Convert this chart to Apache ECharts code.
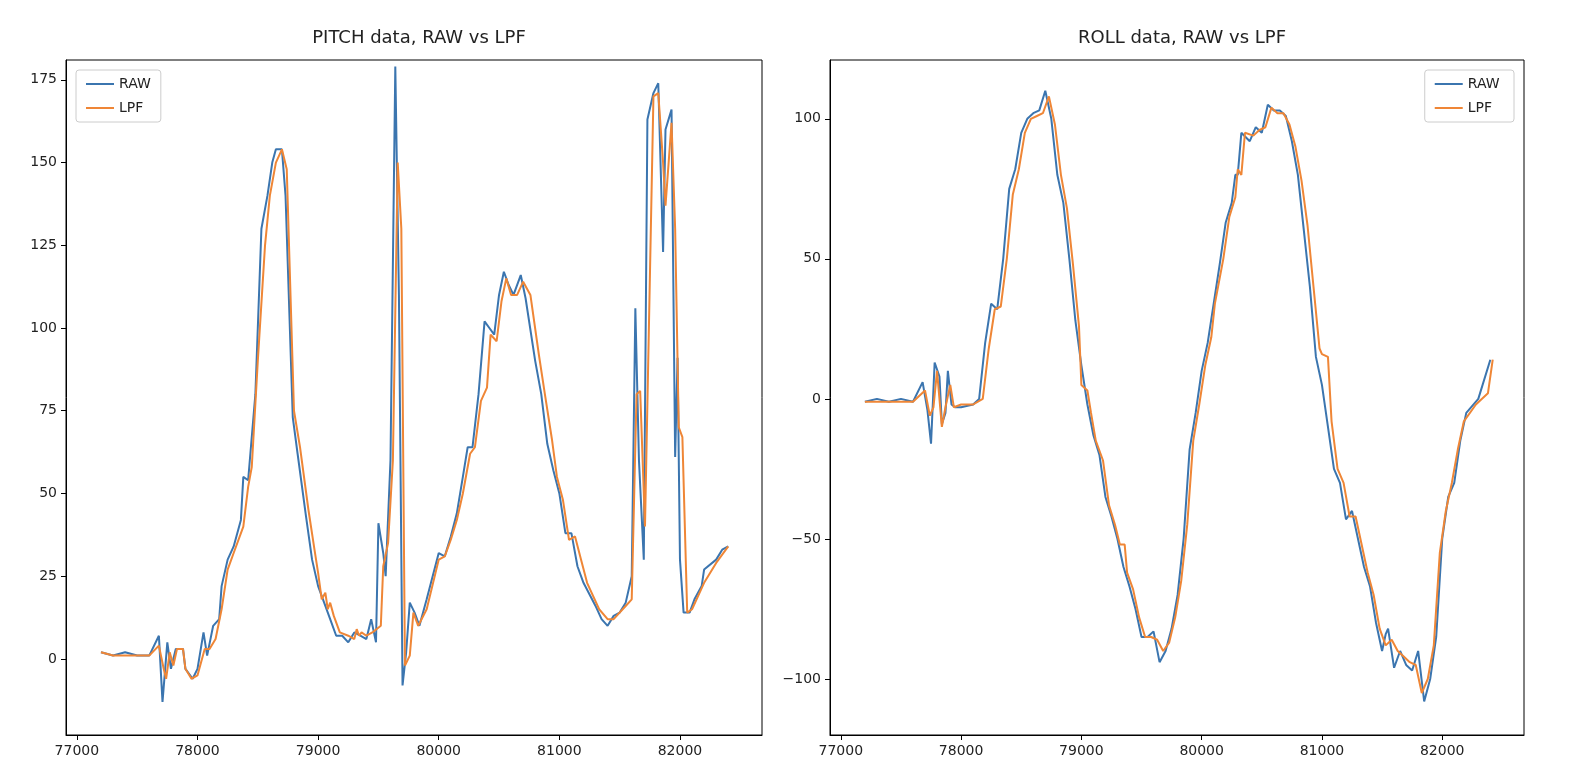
<!DOCTYPE html>
<html>
<head>
<meta charset="utf-8">
<script src="https://cdn.jsdelivr.net/npm/echarts@6/dist/echarts.min.js"></script>
<style>html,body{margin:0;padding:0;background:#fff}#main{width:1574px;height:780px}</style>
</head>
<body>
<div id="main"></div>
<script>
// [time, value]
var pitchRaw = [[77200,2],[77300,1],[77400,2],[77500,1],[77600,1],[77680,7],[77710,-13],[77750,5],[77780,-3],[77820,3],[77880,3],[77900,-3],[77960,-6],[78000,-3],[78050,8],[78080,1],[78130,10],[78180,12],[78200,22],[78250,30],[78300,34],[78360,42],[78380,55],[78420,54],[78480,80],[78530,130],[78580,140],[78620,150],[78650,154],[78700,154],[78730,140],[78790,73],[78830,62],[78900,43],[78950,30],[79000,22],[79050,17],[79100,12],[79150,7],[79200,7],[79250,5],[79300,8],[79350,7],[79400,6],[79440,12],[79480,5],[79500,41],[79540,32],[79560,25],[79600,60],[79640,179],[79670,110],[79700,-8],[79730,2],[79760,17],[79800,14],[79840,10],[79900,18],[80000,32],[80050,31],[80100,37],[80150,44],[80200,55],[80240,64],[80280,64],[80330,80],[80380,102],[80420,100],[80460,98],[80500,110],[80540,117],[80580,113],[80620,110],[80680,116],[80720,109],[80800,90],[80850,80],[80900,65],[80950,57],[81000,50],[81050,38],[81100,38],[81150,28],[81200,23],[81300,16],[81350,12],[81400,10],[81450,13],[81500,14],[81550,17],[81600,25],[81630,106],[81660,60],[81700,30],[81730,163],[81780,171],[81820,174],[81860,123],[81880,160],[81930,166],[81960,61],[81980,91],[82000,30],[82030,14],[82080,14],[82120,18],[82180,22],[82200,27],[82300,30],[82350,33],[82400,34]];
var pitchLpf = [[77200,2],[77300,1],[77400,1],[77500,1],[77600,1],[77680,4],[77720,-3],[77740,-6],[77770,2],[77800,-2],[77830,3],[77880,3],[77900,-3],[77950,-6],[78000,-5],[78060,3],[78100,3],[78150,6],[78200,15],[78250,27],[78300,32],[78380,40],[78420,52],[78450,58],[78500,90],[78560,125],[78600,140],[78650,150],[78700,154],[78740,148],[78800,75],[78850,64],[78920,45],[78970,33],[79000,26],[79030,18],[79060,20],[79080,15],[79100,17],[79130,13],[79180,8],[79250,7],[79300,6],[79320,9],[79340,7],[79360,8],[79400,7],[79450,8],[79520,10],[79540,28],[79580,35],[79620,60],[79660,150],[79690,130],[79720,-2],[79760,1],[79790,14],[79830,10],[79900,15],[80000,30],[80050,31],[80100,36],[80150,42],[80200,50],[80260,62],[80300,64],[80350,78],[80400,82],[80430,98],[80480,96],[80520,108],[80560,115],[80600,110],[80650,110],[80700,114],[80760,110],[80830,92],[80880,80],[80940,66],[80980,55],[81030,48],[81080,36],[81130,37],[81180,30],[81230,23],[81330,15],[81400,12],[81450,12],[81550,16],[81600,18],[81640,80],[81670,81],[81710,40],[81780,170],[81820,171],[81860,150],[81880,137],[81930,162],[81960,130],[81990,70],[82020,67],[82060,14],[82100,15],[82200,23],[82300,29],[82400,34]];
var rollRaw = [[77200,-1],[77300,0],[77400,-1],[77500,0],[77600,-1],[77680,6],[77720,-4],[77750,-16],[77780,13],[77820,8],[77840,-9],[77870,-5],[77890,10],[77920,-2],[77950,-3],[78000,-3],[78100,-2],[78150,0],[78200,20],[78250,34],[78300,32],[78350,50],[78400,75],[78450,82],[78500,95],[78550,100],[78600,102],[78650,103],[78700,110],[78750,100],[78800,80],[78850,70],[78900,50],[78950,28],[79000,12],[79050,-2],[79100,-13],[79150,-20],[79200,-35],[79250,-42],[79300,-50],[79350,-60],[79400,-67],[79450,-75],[79500,-85],[79550,-85],[79600,-83],[79650,-94],[79700,-90],[79750,-82],[79800,-70],[79850,-50],[79900,-18],[79950,-5],[80000,10],[80050,20],[80100,34],[80150,48],[80200,63],[80250,70],[80280,80],[80300,80],[80330,95],[80400,92],[80450,97],[80500,95],[80550,105],[80600,103],[80650,103],[80700,101],[80750,92],[80800,80],[80850,60],[80900,40],[80950,15],[81000,5],[81050,-10],[81100,-25],[81150,-30],[81200,-43],[81250,-40],[81300,-50],[81350,-60],[81400,-67],[81450,-80],[81500,-90],[81530,-84],[81550,-82],[81600,-96],[81650,-90],[81700,-95],[81750,-97],[81800,-90],[81850,-108],[81900,-100],[81950,-85],[82000,-50],[82050,-35],[82100,-30],[82150,-15],[82200,-5],[82300,0],[82400,14]];
var rollLpf = [[77200,-1],[77300,-1],[77400,-1],[77500,-1],[77600,-1],[77700,3],[77740,-6],[77770,-3],[77800,10],[77840,-10],[77870,-3],[77910,5],[77940,-3],[78000,-2],[78100,-2],[78180,0],[78230,18],[78280,32],[78330,33],[78380,50],[78430,73],[78480,82],[78530,95],[78580,100],[78630,101],[78680,102],[78730,108],[78780,98],[78830,80],[78880,68],[78930,48],[78980,26],[79000,5],[79050,3],[79080,-5],[79120,-15],[79180,-22],[79230,-38],[79280,-45],[79320,-52],[79360,-52],[79380,-62],[79430,-68],[79480,-78],[79530,-85],[79580,-85],[79630,-86],[79680,-90],[79730,-87],[79780,-78],[79830,-65],[79880,-45],[79930,-15],[79980,-2],[80030,12],[80080,22],[80110,34],[80180,50],[80230,65],[80280,72],[80300,82],[80330,80],[80360,95],[80430,94],[80480,96],[80530,97],[80580,104],[80630,102],[80680,102],[80730,98],[80780,90],[80830,78],[80880,62],[80930,40],[80980,18],[81000,16],[81050,15],[81080,-8],[81130,-25],[81180,-30],[81230,-42],[81280,-42],[81330,-52],[81380,-62],[81430,-70],[81480,-82],[81530,-88],[81580,-86],[81630,-90],[81680,-92],[81730,-94],[81780,-95],[81830,-105],[81880,-100],[81930,-88],[81980,-55],[82030,-40],[82080,-30],[82130,-18],[82180,-8],[82280,-2],[82380,2],[82420,14]];
var xTicks = [77000, 78000, 79000, 80000, 81000, 82000];
var pitchTicks = [0, 25, 50, 75, 100, 125, 150, 175];
var rollTicks = [-100, -50, 0, 50, 100];

var blue = '#3b75af', orange = '#ef8636';
var font = 'DejaVu Sans';

function xAxis(i) {
    return {
        type: 'value', gridIndex: i, min: 76910, max: 82680,
        axisLine: {show: true, onZero: false, lineStyle: {color: '#000'}},
        axisTick: {show: true, customValues: xTicks, length: 5, lineStyle: {color: '#000'}},
        axisLabel: {customValues: xTicks, color: '#222', fontSize: 14, fontFamily: font, margin: 9,
                    formatter: function (v) { return String(v); }},
        splitLine: {show: false}
    };
}
function yAxis(i, min, max, ticks) {
    return {
        type: 'value', gridIndex: i, min: min, max: max,
        axisLine: {show: true, onZero: false, lineStyle: {color: '#000'}},
        axisTick: {show: true, customValues: ticks, length: 5, lineStyle: {color: '#000'}},
        axisLabel: {customValues: ticks, color: '#222', fontSize: 14, fontFamily: font, margin: 9,
                    formatter: function (v) { return String(v).replace('-', '\u2212'); }},
        splitLine: {show: false}
    };
}
function line(name, data, color, i) {
    return {
        name: name, type: 'line', data: data, xAxisIndex: i, yAxisIndex: i,
        showSymbol: false, symbol: 'none', lineStyle: {color: color, width: 2}, itemStyle: {color: color},
        animation: false
    };
}

var chart = echarts.init(document.getElementById('main'));
chart.setOption({
    animation: false,
    title: [
        {text: 'PITCH data, RAW vs LPF', left: 414, top: 24, textAlign: 'center',
         textStyle: {fontSize: 18, fontWeight: 'normal', color: '#222', fontFamily: font}},
        {text: 'ROLL data, RAW vs LPF', left: 1177, top: 24, textAlign: 'center',
         textStyle: {fontSize: 18, fontWeight: 'normal', color: '#222', fontFamily: font}}
    ],
    legend: [
        {data: ['RAW', 'LPF'], orient: 'vertical', left: 76, top: 70, itemWidth: 28, itemHeight: 2, itemGap: 10,
         icon: 'rect', borderColor: '#ccc', borderWidth: 1, borderRadius: 3, padding: [7, 10],
         textStyle: {fontSize: 14, fontFamily: font, color: '#222'}},
        {data: ['RAW ', 'LPF '], orient: 'vertical', right: 60, top: 70, itemWidth: 28, itemHeight: 2, itemGap: 10,
         icon: 'rect', borderColor: '#ccc', borderWidth: 1, borderRadius: 3, padding: [7, 10],
         textStyle: {fontSize: 14, fontFamily: font, color: '#222'}}
    ],
    grid: [
        {left: 66, top: 60, width: 696, height: 675, show: true, borderColor: '#000', borderWidth: 1},
        {left: 830, top: 60, width: 694, height: 675, show: true, borderColor: '#000', borderWidth: 1}
    ],
    xAxis: [xAxis(0), xAxis(1)],
    yAxis: [yAxis(0, -23, 181, pitchTicks), yAxis(1, -120, 121, rollTicks)],
    series: [
        line('RAW', pitchRaw, blue, 0),
        line('LPF', pitchLpf, orange, 0),
        line('RAW ', rollRaw, blue, 1),
        line('LPF ', rollLpf, orange, 1)
    ]
});
</script>
</body>
</html>
